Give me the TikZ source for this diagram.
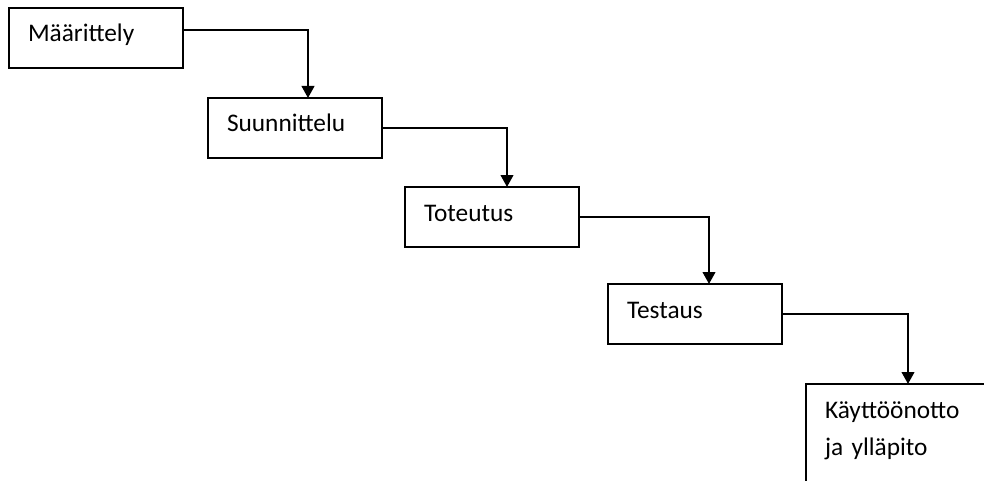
\documentclass[tikz,border=0pt]{standalone}
\usepackage{fontspec}
\setmainfont{Carlito}
\usetikzlibrary{arrows.meta,positioning}

\begin{document}
\begin{tikzpicture}[
  phase/.style={draw=black, line width=1.5pt, rectangle, outer sep=0pt, inner xsep=14.25pt, inner ysep=0pt,
    text width=102pt, align=left, text height=25.5pt, text depth=19.5pt,
    font=\fontsize{19pt}{27.75pt}\selectfont},
  flow/.style={-{Triangle[width=9.5pt,length=9pt]}, line width=1.5pt, draw=black}
]
\clip[use as bounding box] (0,0) rectangle (738pt,-360.75pt);
\node[phase, anchor=north west] (maar) at (6.75pt,-6pt) {Määrittely};
\node[phase, below right=22.5pt and 18.75pt of maar.south east, anchor=north west] (suun) {Suunnittelu};
\node[phase, below right=21.75pt and 17.25pt of suun.south east, anchor=north west] (tote) {Toteutus};
\node[phase, below right=27.75pt and 21.75pt of tote.south east, anchor=north west] (test) {Testaus};
\node[phase, text width=130pt, text depth=60pt, below right=30pt and 18pt of test.south east, anchor=north west] (kayt) {Käyttöönotto\\ja ylläpito};
\draw[flow] ([yshift=6pt]maar.east) -| ([xshift=75pt]suun.north west);
\draw[flow] (suun.east) -| ([xshift=76.5pt]tote.north west);
\draw[flow] (tote.east) -| ([xshift=75.75pt]test.north west);
\draw[flow] (test.east) -| ([xshift=76.5pt]kayt.north west);
\end{tikzpicture}
\end{document}
